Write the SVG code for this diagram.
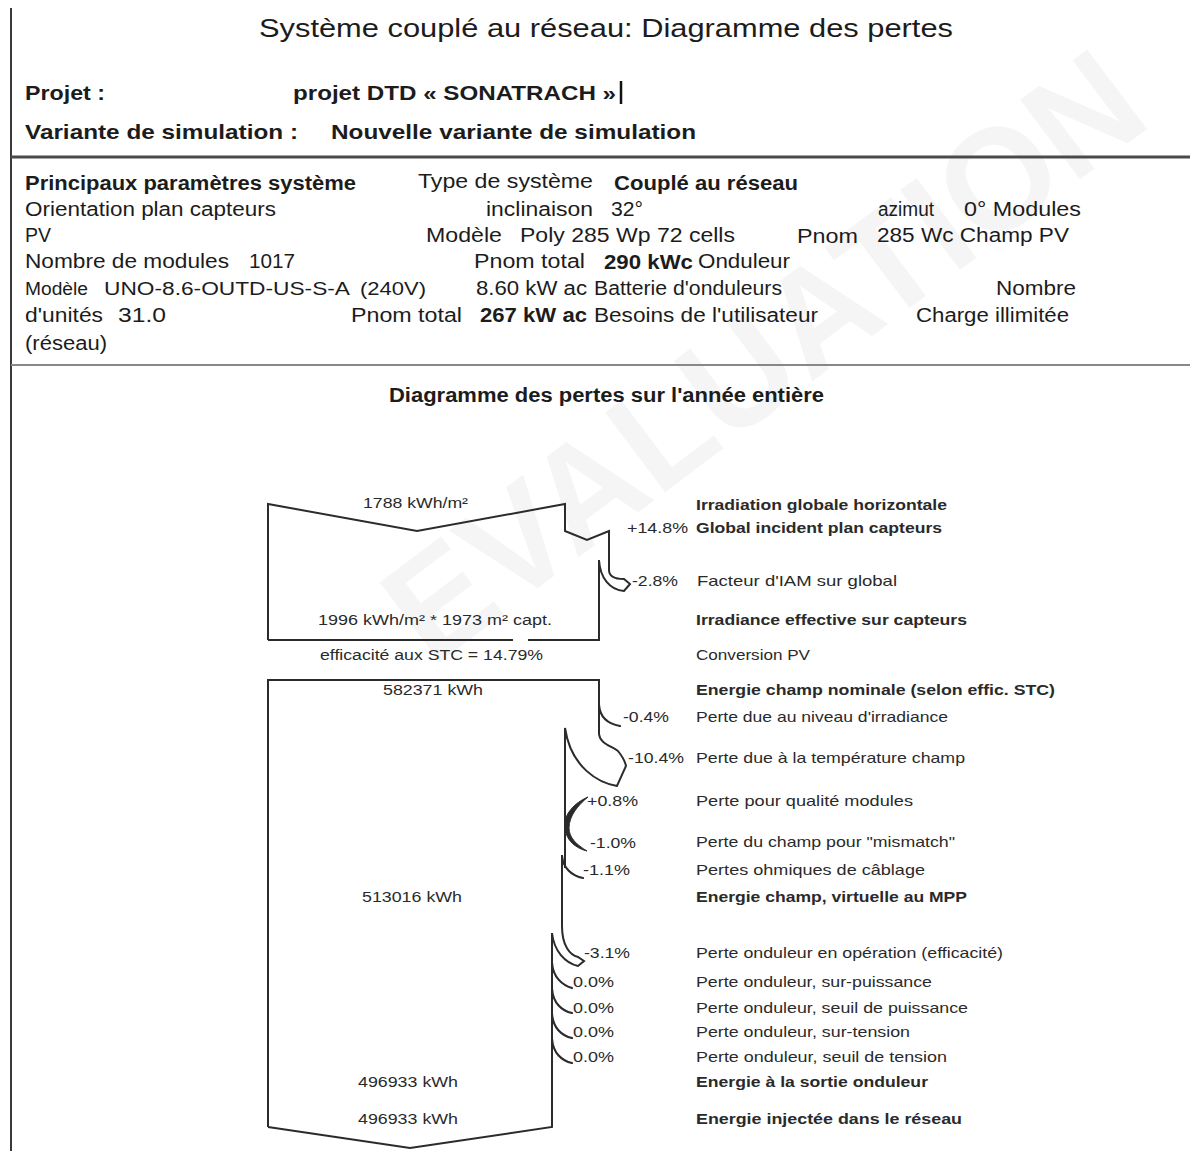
<svg xmlns="http://www.w3.org/2000/svg" width="1190" height="1151" viewBox="0 0 1190 1151">
<style>
text{font-family:"Liberation Sans",Arial,Helvetica,sans-serif;fill:#1c1c1c}
.b{font-weight:bold}
.h1{font-size:26px}
.h2{font-size:21px;font-weight:bold}
.p{font-size:20px}
.p2{font-size:18px}
.lab{font-size:15px;fill:#2a2a2a}
.num{font-size:14px;fill:#2a2a2a}
.ln{fill:none;stroke:#2b2b2b;stroke-width:2;stroke-linejoin:miter}
.lc{fill:none;stroke:#2b2b2b;stroke-width:2.2;stroke-linecap:round}
.wm{font-size:145px;font-weight:bold;fill:#000;fill-opacity:0.04}
</style>
<rect width="1190" height="1151" fill="#ffffff"/>

<g id="watermark">
<text class="wm" x="432" y="668" transform="rotate(-37 432 668)" textLength="905" lengthAdjust="spacingAndGlyphs">EVALUATION</text>
</g>

<g id="frame">
<line x1="11" y1="8" x2="11" y2="1151" stroke="#3a3a3a" stroke-width="2"/>
<line x1="11" y1="157" x2="1190" y2="157" stroke="#4a4a4a" stroke-width="3"/>
<line x1="11" y1="365" x2="1190" y2="365" stroke="#888" stroke-width="2"/>
</g>

<g id="header">
<text class="h1" x="259" y="37" textLength="694" lengthAdjust="spacingAndGlyphs">Système couplé au réseau: Diagramme des pertes</text>
<text class="h2" x="25" y="100" textLength="80" lengthAdjust="spacingAndGlyphs">Projet :</text>
<text class="h2" x="293" y="100" textLength="323" lengthAdjust="spacingAndGlyphs">projet DTD «  SONATRACH »</text>
<line x1="621" y1="81" x2="621" y2="104" stroke="#111" stroke-width="2.5"/>
<text class="h2" x="25" y="139" textLength="273" lengthAdjust="spacingAndGlyphs">Variante de simulation :</text>
<text class="h2" x="331" y="139" textLength="365" lengthAdjust="spacingAndGlyphs">Nouvelle variante de simulation</text>
</g>

<g id="params">
<text class="p b" x="25" y="190" textLength="331" lengthAdjust="spacingAndGlyphs">Principaux paramètres système</text>
<text class="p" x="418" y="188" textLength="175" lengthAdjust="spacingAndGlyphs">Type de système</text>
<text class="p b" x="614" y="190" textLength="184" lengthAdjust="spacingAndGlyphs">Couplé au réseau</text>

<text class="p" x="25" y="216" textLength="251" lengthAdjust="spacingAndGlyphs">Orientation plan capteurs</text>
<text class="p" x="486" y="216" textLength="107" lengthAdjust="spacingAndGlyphs">inclinaison</text>
<text class="p" x="611" y="216" textLength="32" lengthAdjust="spacingAndGlyphs">32°</text>
<text class="p" x="878" y="216" textLength="56" lengthAdjust="spacingAndGlyphs">azimut</text>
<text class="p" x="964" y="216" textLength="117" lengthAdjust="spacingAndGlyphs">0° Modules</text>

<text class="p" x="25" y="242" textLength="26" lengthAdjust="spacingAndGlyphs">PV</text>
<text class="p" x="426" y="242" textLength="76" lengthAdjust="spacingAndGlyphs">Modèle</text>
<text class="p" x="520" y="242" textLength="215" lengthAdjust="spacingAndGlyphs">Poly 285 Wp 72 cells</text>
<text class="p" x="797" y="243" textLength="61" lengthAdjust="spacingAndGlyphs">Pnom</text>
<text class="p" x="877" y="242" textLength="192" lengthAdjust="spacingAndGlyphs">285 Wc Champ PV</text>

<text class="p" x="25" y="268" textLength="204" lengthAdjust="spacingAndGlyphs">Nombre de modules</text>
<text class="p" x="249" y="268" textLength="46" lengthAdjust="spacingAndGlyphs">1017</text>
<text class="p" x="474" y="268" textLength="111" lengthAdjust="spacingAndGlyphs">Pnom total</text>
<text class="p b" x="604" y="269" textLength="89" lengthAdjust="spacingAndGlyphs">290 kWc</text>
<text class="p" x="698" y="268" textLength="92" lengthAdjust="spacingAndGlyphs">Onduleur</text>

<text class="p2" x="25" y="295" textLength="63" lengthAdjust="spacingAndGlyphs">Modèle</text>
<text class="p2" x="104" y="295" textLength="246" lengthAdjust="spacingAndGlyphs">UNO-8.6-OUTD-US-S-A</text>
<text class="p2" x="360" y="295" textLength="66" lengthAdjust="spacingAndGlyphs">(240V)</text>
<text class="p" x="476" y="295" textLength="111" lengthAdjust="spacingAndGlyphs">8.60 kW ac</text>
<text class="p" x="594" y="295" textLength="188" lengthAdjust="spacingAndGlyphs">Batterie d'onduleurs</text>
<text class="p" x="996" y="295" textLength="80" lengthAdjust="spacingAndGlyphs">Nombre</text>

<text class="p" x="25" y="322" textLength="78" lengthAdjust="spacingAndGlyphs">d'unités</text>
<text class="p" x="118" y="322" textLength="48" lengthAdjust="spacingAndGlyphs">31.0</text>
<text class="p" x="351" y="322" textLength="111" lengthAdjust="spacingAndGlyphs">Pnom total</text>
<text class="p b" x="480" y="322" textLength="107" lengthAdjust="spacingAndGlyphs">267 kW ac</text>
<text class="p" x="594" y="322" textLength="224" lengthAdjust="spacingAndGlyphs">Besoins de l'utilisateur</text>
<text class="p" x="916" y="322" textLength="153" lengthAdjust="spacingAndGlyphs">Charge illimitée</text>

<text class="p" x="25" y="350" textLength="82" lengthAdjust="spacingAndGlyphs">(réseau)</text>
</g>

<g id="diagram-title">
<text class="p b" x="389" y="402" textLength="435" lengthAdjust="spacingAndGlyphs">Diagramme des pertes sur l'année entière</text>
</g>

<g id="connectors">
<!-- upper box: irradiation -->
<path class="ln" d="M268,640 L268,504 L417,531 L565,504 L565,531 L587,540 L609,531 L609,570"/>
<path class="ln" d="M609,570 C609,576 615,579 624,579 L630,584 L624,591 C610,590 600,578 599,560 L599,640 L528,640"/>
<path class="ln" d="M513,640 L268,640"/>
<!-- lower box: energy -->
<path class="ln" d="M268,1127 L268,680 L599,680 L599,734 C600,744 612,746 618,751 C622,756 625,761 626,766 L617,786 C599,783 571,768 565,728 L565,868"/>
<path class="lc" d="M599,705 C600,718 609,724 620,726"/>
<path d="M588,797 C574,803 563,815 565,828 C566,840 575,848 587,851 C577,845 569,838 569,828 C569,816 578,805 588,797 Z" fill="#2b2b2b" stroke="#2b2b2b" stroke-width="1"/>
<path class="lc" d="M562,856 C563,868 572,876 583,878"/>
<path class="ln" d="M562,855 L562,926 C562,946 570,955 578,957 L584,961 L578,966 C565,963 554,951 552,933 L552,1127 L410,1148 L268,1127"/>
<path class="lc" d="M552,963 C553,977 562,985 572,988"/>
<path class="lc" d="M552,989 C553,1003 562,1011 572,1013"/>
<path class="lc" d="M552,1014 C553,1028 562,1036 572,1038"/>
<path class="lc" d="M552,1039 C553,1053 562,1061 572,1063"/>
</g>

<g id="box-values">
<text class="num" x="363" y="508" textLength="105" lengthAdjust="spacingAndGlyphs">1788 kWh/m²</text>
<text class="num" x="318" y="625" textLength="234" lengthAdjust="spacingAndGlyphs">1996 kWh/m² * 1973 m² capt.</text>
<text class="num" x="320" y="660" textLength="223" lengthAdjust="spacingAndGlyphs">efficacité aux STC = 14.79%</text>
<text class="num" x="383" y="695" textLength="100" lengthAdjust="spacingAndGlyphs">582371 kWh</text>
<text class="num" x="362" y="902" textLength="100" lengthAdjust="spacingAndGlyphs">513016 kWh</text>
<text class="num" x="358" y="1087" textLength="100" lengthAdjust="spacingAndGlyphs">496933 kWh</text>
<text class="num" x="358" y="1124" textLength="100" lengthAdjust="spacingAndGlyphs">496933 kWh</text>
</g>

<g id="percentages">
<text class="num" x="627" y="533" textLength="61" lengthAdjust="spacingAndGlyphs">+14.8%</text>
<text class="num" x="632" y="586" textLength="46" lengthAdjust="spacingAndGlyphs">-2.8%</text>
<text class="num" x="623" y="722" textLength="46" lengthAdjust="spacingAndGlyphs">-0.4%</text>
<text class="num" x="628" y="763" textLength="56" lengthAdjust="spacingAndGlyphs">-10.4%</text>
<text class="num" x="587" y="806" textLength="51" lengthAdjust="spacingAndGlyphs">+0.8%</text>
<text class="num" x="590" y="848" textLength="46" lengthAdjust="spacingAndGlyphs">-1.0%</text>
<text class="num" x="583" y="875" textLength="47" lengthAdjust="spacingAndGlyphs">-1.1%</text>
<text class="num" x="584" y="958" textLength="46" lengthAdjust="spacingAndGlyphs">-3.1%</text>
<text class="num" x="573" y="987" textLength="41" lengthAdjust="spacingAndGlyphs">0.0%</text>
<text class="num" x="573" y="1013" textLength="41" lengthAdjust="spacingAndGlyphs">0.0%</text>
<text class="num" x="573" y="1037" textLength="41" lengthAdjust="spacingAndGlyphs">0.0%</text>
<text class="num" x="573" y="1062" textLength="41" lengthAdjust="spacingAndGlyphs">0.0%</text>
</g>

<g id="labels">
<text class="lab b" x="696" y="510" textLength="251" lengthAdjust="spacingAndGlyphs">Irradiation globale horizontale</text>
<text class="lab b" x="696" y="533" textLength="246" lengthAdjust="spacingAndGlyphs">Global incident plan capteurs</text>
<text class="lab" x="697" y="586" textLength="200" lengthAdjust="spacingAndGlyphs">Facteur d'IAM  sur global</text>
<text class="lab b" x="696" y="625" textLength="271" lengthAdjust="spacingAndGlyphs">Irradiance effective sur capteurs</text>
<text class="lab" x="696" y="660" textLength="114" lengthAdjust="spacingAndGlyphs">Conversion PV</text>
<text class="lab b" x="696" y="695" textLength="359" lengthAdjust="spacingAndGlyphs">Energie champ nominale (selon effic. STC)</text>
<text class="lab" x="696" y="722" textLength="252" lengthAdjust="spacingAndGlyphs">Perte due au niveau d'irradiance</text>
<text class="lab" x="696" y="763" textLength="269" lengthAdjust="spacingAndGlyphs">Perte due à la température champ</text>
<text class="lab" x="696" y="806" textLength="217" lengthAdjust="spacingAndGlyphs">Perte pour qualité modules</text>
<text class="lab" x="696" y="847" textLength="259" lengthAdjust="spacingAndGlyphs">Perte du champ pour "mismatch"</text>
<text class="lab" x="696" y="875" textLength="229" lengthAdjust="spacingAndGlyphs">Pertes ohmiques de câblage</text>
<text class="lab b" x="696" y="902" textLength="271" lengthAdjust="spacingAndGlyphs">Energie champ, virtuelle au MPP</text>
<text class="lab" x="696" y="958" textLength="307" lengthAdjust="spacingAndGlyphs">Perte onduleur en opération (efficacité)</text>
<text class="lab" x="696" y="987" textLength="236" lengthAdjust="spacingAndGlyphs">Perte onduleur, sur-puissance</text>
<text class="lab" x="696" y="1013" textLength="272" lengthAdjust="spacingAndGlyphs">Perte onduleur, seuil de puissance</text>
<text class="lab" x="696" y="1037" textLength="214" lengthAdjust="spacingAndGlyphs">Perte onduleur, sur-tension</text>
<text class="lab" x="696" y="1062" textLength="251" lengthAdjust="spacingAndGlyphs">Perte onduleur, seuil de tension</text>
<text class="lab b" x="696" y="1087" textLength="232" lengthAdjust="spacingAndGlyphs">Energie à la sortie onduleur</text>
<text class="lab b" x="696" y="1124" textLength="266" lengthAdjust="spacingAndGlyphs">Energie injectée dans le réseau</text>
</g>
</svg>
